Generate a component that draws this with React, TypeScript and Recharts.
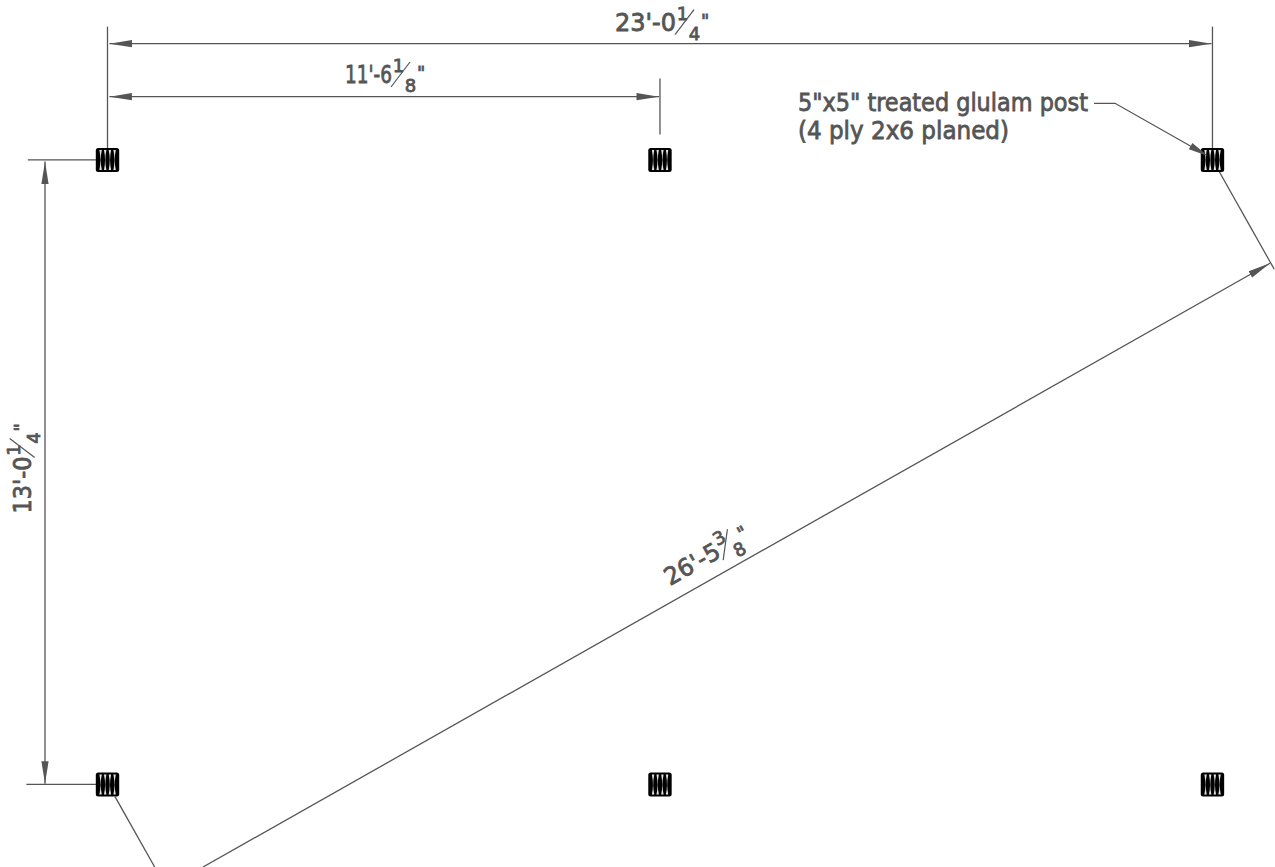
import React from "react";
import { ScatterChart, Scatter, XAxis, YAxis } from "recharts";

// All values are in feet, measured on the plan (origin: bottom-left post).
const spanX = 23.02;
const midX = 11.51;
const spanY = 13.02;

const postXs = [0, midX, spanX];
const postYs = [0, spanY];
const posts = postYs.flatMap((y) => postXs.map((x) => ({ x, y })));

const leftExtTop = [{ x: 0, y: 13.26 }, { x: 0, y: 15.8 }];
const rightExtTop = [{ x: spanX, y: 13.26 }, { x: spanX, y: 15.8 }];
const midExtTop = [{ x: midX, y: 13.55 }, { x: midX, y: 14.72 }];
const topExtLeft = [{ x: -1.66, y: spanY }, { x: -0.24, y: spanY }];
const bottomExtLeft = [{ x: -1.69, y: 0 }, { x: -0.24, y: 0 }];
const dimLong = [{ x: 0.04, y: 15.444 }, { x: 23.0, y: 15.444 }];
const dimMid = [{ x: 0.04, y: 14.339 }, { x: 11.49, y: 14.339 }];
const dimHeight = [{ x: -1.302, y: 0.015 }, { x: -1.302, y: 12.99 }];
const dimDiagonal = [{ x: 1.99, y: -1.722 }, { x: 24.219, y: 10.865 }];
const extDiagonalLow = [{ x: 0.156, y: -0.256 }, { x: 0.983, y: -1.722 }];
const extDiagonalHigh = [{ x: 23.163, y: 12.775 }, { x: 24.308, y: 10.74 }];
const leader = [
  { x: 20.552, y: 14.201 },
  { x: 20.99, y: 14.201 },
  { x: 22.927, y: 13.102 },
];
const lineSets = [
  leftExtTop, rightExtTop, midExtTop, topExtLeft, bottomExtLeft, dimLong,
  dimMid, dimHeight, dimDiagonal, extDiagonalLow, extDiagonalHigh, leader,
];

const arrowTips = [
  { x: 0.04, y: 15.444, dir: 180, len: 22.5 },
  { x: 23.0, y: 15.444, dir: 0, len: 22.5 },
  { x: 0.04, y: 14.339, dir: 180, len: 22.5 },
  { x: 11.49, y: 14.339, dir: 0, len: 22.5 },
  { x: -1.302, y: 12.99, dir: -90, len: 22.5 },
  { x: -1.302, y: 0.015, dir: 90, len: 22.5 },
  { x: 24.219, y: 10.865, dir: -29.5, len: 22.5 },
  { x: 22.927, y: 13.102, dir: 29.5, len: 20 },
];

const dimLabels = [
  { x: 10.573, y: 15.709, main: "23'-0", num: "1", den: "4", dir: 0 },
  { x: 4.948, y: 14.618, main: "11'-6", num: "1", den: "8", dir: 0 },
  { x: -1.594, y: 5.65, main: "13'-0", num: "1", den: "4", dir: -90 },
  { x: 11.719, y: 4.137, main: "26'-5", num: "3", den: "8", dir: -29.5 },
];
const noteLabels = [
  { x: 14.385, y: 14.046, text: "5\"x5\" treated glulam post", fit: 290 },
  { x: 14.385, y: 13.462, text: "(4 ply 2x6 planed)", fit: 211 },
];

const INK = "#555555";
const FONT = "'DejaVu Sans', sans-serif";
const mainWidths: Record<string, number> = {
  "23'-0": 61, "11'-6": 47, "13'-0": 57, "26'-5": 60,
};

const noMark = () => <g />;

const PostShape = (p: any) => {
  const slits = [-6.9, -2.3, 2.4, 7.1];
  return (
    <g transform={`translate(${p.cx},${p.cy})`}>
      <rect x={-11.7} y={-12} width={23.4} height={24} rx={2.5} fill="#000" />
      {slits.map((s, i) => (
        <path
          key={i}
          d={`M${s - 1.2} -10 Q${s + 0.9} 0 ${s - 1.2} 10 L${s + 1.2} 10 Q${s - 0.9} 0 ${s + 1.2} -10 Z`}
          fill="#e4e4e4"
        />
      ))}
    </g>
  );
};

const ArrowShape = (p: any) => {
  const { dir, len } = p.payload;
  return (
    <polygon
      transform={`translate(${p.cx},${p.cy}) rotate(${dir})`}
      points={`0,0 ${-len},-3.6 ${-len},3.6`}
      fill={INK}
    />
  );
};

const DimLabelShape = (p: any) => {
  const { main, num, den, dir } = p.payload;
  const w = mainWidths[main];
  const txt = { fontFamily: FONT, fill: INK, stroke: INK, strokeWidth: 0.8 };
  return (
    <g transform={`translate(${p.cx},${p.cy}) rotate(${dir})`}>
      <text x={0} y={0} fontSize={24} textLength={w} lengthAdjust="spacingAndGlyphs" {...txt}>
        {main}
      </text>
      <text x={w + 6.5} y={-11.3} fontSize={18} textAnchor="middle" {...txt}>{num}</text>
      <line x1={w - 1} y1={3.7} x2={w + 18} y2={-21.3} stroke={INK} strokeWidth={1.2} />
      <text x={w + 18.5} y={8.7} fontSize={18} textAnchor="middle" {...txt}>{den}</text>
      <text x={w + 25} y={-4.4} fontSize={18} {...txt}>{'"'}</text>
    </g>
  );
};

const NoteShape = (p: any) => {
  const { text, fit } = p.payload;
  return (
    <text
      x={p.cx}
      y={p.cy}
      fontFamily={FONT}
      fontSize={24}
      fill={INK}
      stroke={INK}
      strokeWidth={0.8}
      textLength={fit}
      lengthAdjust="spacingAndGlyphs"
    >
      {text}
    </text>
  );
};

export default function App() {
  return (
    <div style={{ position: "absolute", left: 0, top: 0, width: 1275, height: 867, background: "#fff" }}>
      <ScatterChart width={1275} height={867} margin={{ top: 0, right: 0, bottom: 0, left: 0 }}>
        <XAxis type="number" dataKey="x" hide domain={[-2.2396, 24.3229]} allowDataOverflow />
        <YAxis type="number" dataKey="y" hide domain={[-1.722, 16.355]} allowDataOverflow />
        {lineSets.map((seg, i) => (
          <Scatter
            key={i}
            data={seg}
            shape={noMark}
            line={{ stroke: INK, strokeWidth: 1.3 }}
            isAnimationActive={false}
          />
        ))}
        <Scatter data={posts} shape={PostShape} isAnimationActive={false} />
        <Scatter data={arrowTips} shape={ArrowShape} isAnimationActive={false} />
        <Scatter data={dimLabels} shape={DimLabelShape} isAnimationActive={false} />
        <Scatter data={noteLabels} shape={NoteShape} isAnimationActive={false} />
      </ScatterChart>
    </div>
  );
}
